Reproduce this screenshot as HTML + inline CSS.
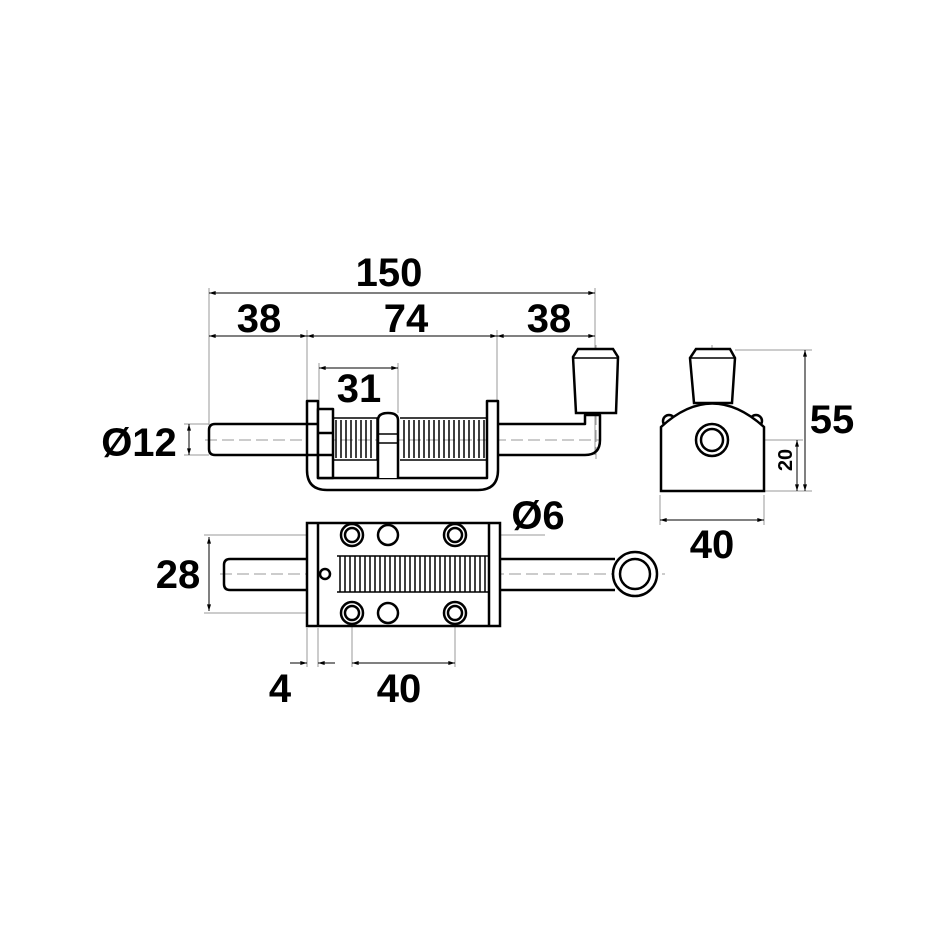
<!DOCTYPE html>
<html><head><meta charset="utf-8"><style>html,body{margin:0;padding:0;background:#fff}svg{display:block}</style></head>
<body>
<svg width="947" height="947" viewBox="0 0 947 947" xmlns="http://www.w3.org/2000/svg">
<defs>
<marker id="a" viewBox="0 0 10 6" refX="10" refY="3" markerWidth="10" markerHeight="4" orient="auto-start-reverse" markerUnits="userSpaceOnUse"><path d="M0,0L10,3L0,6z" fill="#000"/></marker>
</defs>
<g font-family="Liberation Sans, sans-serif" font-weight="bold" font-size="40" fill="#000">
<text x="389" y="286" text-anchor="middle">150</text>
<text x="259" y="332" text-anchor="middle">38</text>
<text x="406" y="332" text-anchor="middle">74</text>
<text x="549" y="332" text-anchor="middle">38</text>
<text x="359" y="402" text-anchor="middle">31</text>
<text x="139" y="456" text-anchor="middle">Ø12</text>
<text x="832" y="433" text-anchor="middle">55</text>
<text x="712" y="558" text-anchor="middle">40</text>
<text x="178" y="588" text-anchor="middle">28</text>
<text x="538" y="529" text-anchor="middle">Ø6</text>
<text x="280" y="702" text-anchor="middle">4</text>
<text x="399" y="702" text-anchor="middle">40</text>
<text x="797" y="465" text-anchor="middle" font-size="20" transform="rotate(-90 792 465)">20</text>
</g>
<g stroke="#999" stroke-width="1" fill="none">
<line x1="209" y1="288" x2="209" y2="425"/><line x1="595" y1="288" x2="595" y2="455"/>
<line x1="307" y1="330" x2="307" y2="402"/><line x1="497" y1="330" x2="497" y2="402"/>
<line x1="319" y1="363" x2="319" y2="408"/><line x1="398" y1="363" x2="398" y2="413"/>
<line x1="184" y1="424" x2="209" y2="424"/><line x1="184" y1="455" x2="209" y2="455"/>
<line x1="735" y1="350" x2="812" y2="350"/><line x1="764" y1="491" x2="812" y2="491"/>
<line x1="730" y1="440" x2="803" y2="440"/>
<line x1="660" y1="495" x2="660" y2="525"/><line x1="764" y1="495" x2="764" y2="525"/>
<line x1="204" y1="535" x2="350" y2="535"/><line x1="204" y1="613" x2="350" y2="613"/>
<line x1="307" y1="628" x2="307" y2="667"/><line x1="318" y1="628" x2="318" y2="667"/>
<line x1="352" y1="626" x2="352" y2="667"/><line x1="455" y1="626" x2="455" y2="667"/>
<line x1="440" y1="535" x2="545" y2="535"/>
</g>
<g stroke="#000" stroke-width="1" fill="none">
<line x1="209" y1="293" x2="595" y2="293" marker-start="url(#a)" marker-end="url(#a)"/>
<line x1="209" y1="336" x2="307" y2="336" marker-start="url(#a)" marker-end="url(#a)"/>
<line x1="307" y1="336" x2="497" y2="336" marker-start="url(#a)" marker-end="url(#a)"/>
<line x1="497" y1="336" x2="595" y2="336" marker-start="url(#a)" marker-end="url(#a)"/>
<line x1="319" y1="368" x2="398" y2="368" marker-start="url(#a)" marker-end="url(#a)"/>
<line x1="189" y1="424" x2="189" y2="455" marker-start="url(#a)" marker-end="url(#a)"/>
<line x1="805" y1="350" x2="805" y2="491" marker-start="url(#a)" marker-end="url(#a)"/>
<line x1="797" y1="440" x2="797" y2="491" marker-start="url(#a)" marker-end="url(#a)"/>
<line x1="660" y1="520" x2="764" y2="520" marker-start="url(#a)" marker-end="url(#a)"/>
<line x1="209" y1="537" x2="209" y2="611" marker-start="url(#a)" marker-end="url(#a)"/>
<line x1="290" y1="663" x2="307" y2="663" marker-end="url(#a)"/>
<line x1="335" y1="663" x2="318" y2="663" marker-end="url(#a)"/>
<line x1="352" y1="663" x2="455" y2="663" marker-start="url(#a)" marker-end="url(#a)"/>
</g>
<g stroke="#999" stroke-width="1" stroke-dasharray="12,5" fill="none">
<line x1="205" y1="440" x2="600" y2="440"/>
<line x1="220" y1="574" x2="665" y2="574"/>
<line x1="596" y1="345" x2="596" y2="460"/>
<line x1="712" y1="345" x2="712" y2="470"/>
</g>
<g stroke="#000" stroke-width="2.5" fill="#fff" stroke-linejoin="round">
<path d="M215,424 L307,424 M215,455 L307,455 M215,424 Q209,424 209,430 L209,449 Q209,455 215,455" fill="none"/>
<path d="M498,424 L585,424 L585,415 L600,415 L600,440 Q600,455 585,455 L498,455" fill="none"/>
<path d="M307,401 L307,470 Q307,490 327,490 L478,490 Q498,490 498,470 L498,401 L487,401 L487,478 L318,478 L318,401 Z"/>
<line x1="318" y1="424" x2="307" y2="424"/>
<line x1="318" y1="455" x2="307" y2="455"/>
<rect x="318" y="409" width="15" height="69"/>
<line x1="318" y1="433" x2="333" y2="433"/><line x1="318" y1="455" x2="333" y2="455"/>
</g>
<g stroke="#000" stroke-width="1.5" fill="none">
<path d="M333,418 L377,418 L377,460 L333,460 M400,418 L487,418 L487,460 L400,460"/>
<path d="M336,420v38M341,420v38M346,420v38M351,420v38M356,420v38M361,420v38M366,420v38M371,420v38 M404,420v38M409,420v38M414,420v38M419,420v38M424,420v38M429,420v38M434,420v38M439,420v38M444,420v38M449,420v38M454,420v38M459,420v38M464,420v38M469,420v38M474,420v38M479,420v38M484,420v38"/>
</g>
<g stroke="#000" stroke-width="2.5" fill="#fff">
<path d="M378,478 L378,420 Q378,413 388,413 Q398,413 398,420 L398,478"/>
<line x1="378" y1="434" x2="398" y2="434" stroke-width="1.5"/><line x1="378" y1="443" x2="398" y2="443" stroke-width="1.5"/>
<path d="M576,413 L573,357 L578,349 L613,349 L618,357 L616,413 Z"/>
<line x1="574" y1="358" x2="617" y2="358" stroke-width="1.5"/>
</g>
<g stroke="#000" stroke-width="2.5" fill="#fff">
<path d="M307,559 L230,559 Q224,559 224,565 L224,584 Q224,590 230,590 L307,590" fill="none"/>
<path d="M500,559 L615,559 M500,590 L615,590" fill="none"/>
<circle cx="635" cy="574" r="22"/><circle cx="635" cy="574" r="15"/>
<rect x="307" y="523" width="193" height="103" fill="#fff"/>
<line x1="318" y1="523" x2="318" y2="626"/><line x1="489" y1="523" x2="489" y2="626"/>
<circle cx="325" cy="574" r="5"/>
<circle cx="352" cy="535" r="11"/><circle cx="352" cy="535" r="7"/>
<circle cx="388" cy="535" r="10"/>
<circle cx="455" cy="535" r="11"/><circle cx="455" cy="535" r="7"/>
<circle cx="352" cy="613" r="11"/><circle cx="352" cy="613" r="7"/>
<circle cx="388" cy="613" r="10"/>
<circle cx="455" cy="613" r="11"/><circle cx="455" cy="613" r="7"/>
</g>
<g stroke="#000" stroke-width="1.5" fill="none">
<path d="M337,556 L490,556 M337,592 L490,592"/>
<path d="M340,556v36M345,556v36M350,556v36M355,556v36M360,556v36M365,556v36M370,556v36M375,556v36M380,556v36M385,556v36M390,556v36M395,556v36M400,556v36M405,556v36M410,556v36M415,556v36M420,556v36M425,556v36M430,556v36M435,556v36M440,556v36M445,556v36M450,556v36M455,556v36M460,556v36M465,556v36M470,556v36M475,556v36M480,556v36M485,556v36"/>
</g>
<g stroke="#000" stroke-width="2.5" fill="#fff">
<path d="M694,403 L690,358 L696,349 L730,349 L735,358 L732,403 Z"/>
<line x1="691" y1="358" x2="734" y2="358" stroke-width="1.5"/>
<circle cx="669" cy="421" r="6"/>
<circle cx="756" cy="421" r="6"/>
<path d="M661,491 L661,427 Q712,380 764,427 L764,491 Z"/>
<circle cx="712" cy="440" r="16"/><circle cx="712" cy="440" r="11"/>
</g>
</svg>
</body></html>
